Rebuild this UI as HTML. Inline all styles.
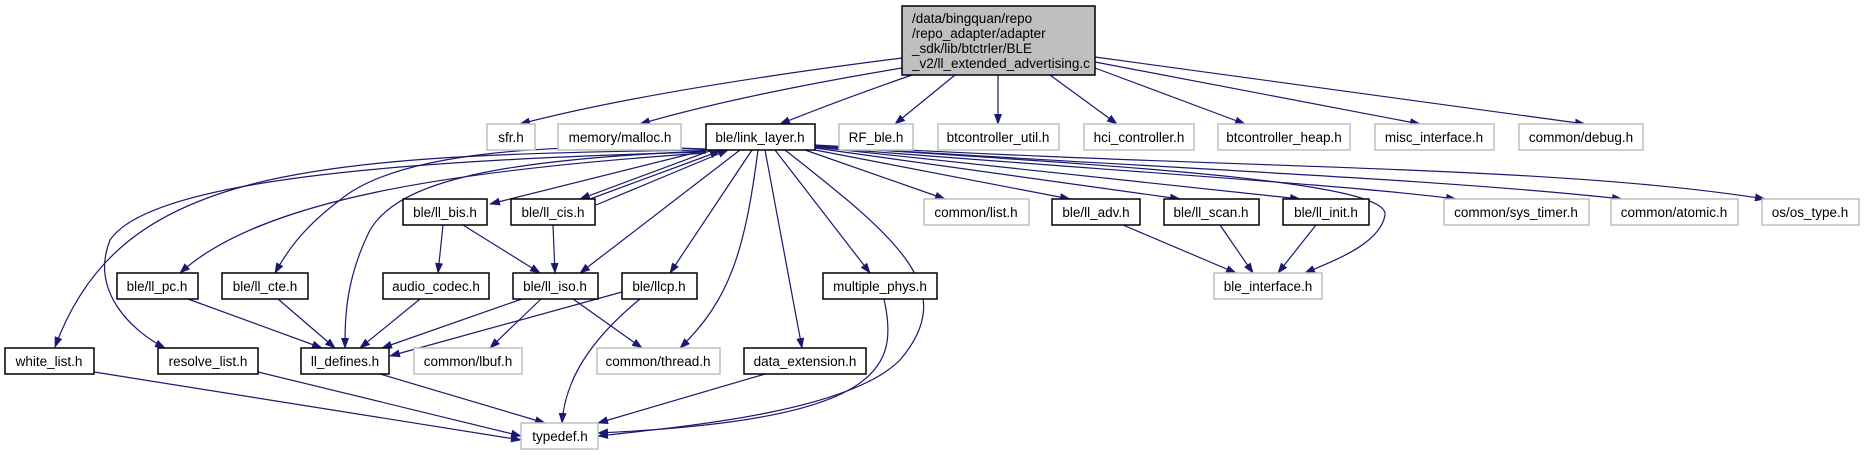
<!DOCTYPE html>
<html><head><meta charset="utf-8"><style>
html,body{margin:0;padding:0;background:#fff;}
svg{display:block;}
text{font-family:"Liberation Sans",sans-serif;font-size:13.5px;fill:#000;}
.e{fill:none;stroke:#191970;stroke-width:1.2;marker-end:url(#a);}
.g{fill:#fff;stroke:#bfbfbf;stroke-width:1.5;}
.b{fill:#fff;stroke:#000;stroke-width:1.5;}
</style></head><body>
<svg width="1865" height="455" viewBox="0 0 1865 455" xmlns="http://www.w3.org/2000/svg">
<defs><marker id="a" markerUnits="userSpaceOnUse" markerWidth="11" markerHeight="8" refX="10" refY="4" orient="auto"><path d="M0,0 L11,4 L0,8 z" fill="#191970"/></marker></defs>
<!-- root edges -->
<path class="e" d="M902,58 Q650,90 520,124"/>
<path class="e" d="M902,68 Q740,95 640,124"/>
<path class="e" d="M912,75 Q840,100 780,124"/>
<path class="e" d="M955,75 L895,124"/>
<path class="e" d="M998,75 L998,124"/>
<path class="e" d="M1050,75 L1117,124"/>
<path class="e" d="M1095,68 L1245,124"/>
<path class="e" d="M1095,62 L1420,124"/>
<path class="e" d="M1095,57 L1585,124"/>
<!-- link_layer edges -->
<path class="e" d="M706,150 C300,155 120,170 55,347"/>
<path class="e" d="M706,152 C400,160 150,180 110,240 C90,290 130,330 165,348"/>
<path class="e" d="M706,153 C450,170 260,200 180,273"/>
<path class="e" d="M706,149 C560,143 400,150 340,200 C300,230 285,255 275,273"/>
<path class="e" d="M706,151 C500,160 400,180 370,230 C345,280 345,320 345,348"/>
<path class="e" d="M706,150 L490,204"/>
<path class="e" d="M712,150 L580,199"/>
<path class="e" d="M590,199 L720,151"/>
<path class="e" d="M596,205 L728,150"/>
<path class="e" d="M740,150 L580,273"/>
<path class="e" d="M752,150 L670,273"/>
<path class="e" d="M758,150 C745,250 730,300 680,348"/>
<path class="e" d="M765,150 L802,348"/>
<path class="e" d="M775,150 L870,273"/>
<path class="e" d="M785,150 C900,240 960,290 900,360 C850,410 700,425 598,436"/>
<path class="e" d="M805,150 L945,199"/>
<path class="e" d="M815,150 L1070,199"/>
<path class="e" d="M815,148 L1180,199"/>
<path class="e" d="M815,147 L1300,199"/>
<path class="e" d="M815,146 C1100,165 1390,180 1385,215 C1380,245 1330,262 1305,273"/>
<path class="e" d="M815,147 C1100,170 1350,185 1456,199"/>
<path class="e" d="M815,146 C1200,170 1450,180 1622,199"/>
<path class="e" d="M815,145 C1250,170 1550,165 1765,199"/>
<!-- lower edges -->
<path class="e" d="M443,225 L438,273"/>
<path class="e" d="M463,225 L540,273"/>
<path class="e" d="M553,225 L555,273"/>
<path class="e" d="M188,299 L322,348"/>
<path class="e" d="M278,299 L335,348"/>
<path class="e" d="M420,299 L360,348"/>
<path class="e" d="M522,299 L382,348"/>
<path class="e" d="M622,292 L390,356"/>
<path class="e" d="M541,299 L490,348"/>
<path class="e" d="M573,299 L642,348"/>
<path class="e" d="M640,299 C590,340 565,380 562,423"/>
<path class="e" d="M380,374 L545,423"/>
<path class="e" d="M94,372 L521,440"/>
<path class="e" d="M258,372 L521,436"/>
<path class="e" d="M765,374 L598,423"/>
<path class="e" d="M884,299 C900,370 880,420 598,433"/>
<path class="e" d="M1123,225 L1236,273"/>
<path class="e" d="M1220,225 L1253,273"/>
<path class="e" d="M1316,225 L1278,273"/>
<!-- nodes -->
<rect x="902" y="6" width="193" height="69" fill="#bfbfbf" stroke="#000" stroke-width="1.5"/>
<text x="912" y="23">/data/bingquan/repo</text>
<text x="912" y="38">/repo_adapter/adapter</text>
<text x="912" y="53">_sdk/lib/btctrler/BLE</text>
<text x="912" y="68">_v2/ll_extended_advertising.c</text>
<g text-anchor="middle">
<rect class="g" x="487" y="124" width="48" height="26"/><text x="511" y="142">sfr.h</text>
<rect class="g" x="558" y="124" width="123" height="26"/><text x="620" y="142">memory/malloc.h</text>
<rect class="b" x="706" y="124" width="109" height="26"/><text x="760" y="142">ble/link_layer.h</text>
<rect class="g" x="839" y="124" width="74" height="26"/><text x="876" y="142">RF_ble.h</text>
<rect class="g" x="938" y="124" width="121" height="26"/><text x="998" y="142">btcontroller_util.h</text>
<rect class="g" x="1084" y="124" width="110" height="26"/><text x="1139" y="142">hci_controller.h</text>
<rect class="g" x="1218" y="124" width="132" height="26"/><text x="1284" y="142">btcontroller_heap.h</text>
<rect class="g" x="1375" y="124" width="119" height="26"/><text x="1434" y="142">misc_interface.h</text>
<rect class="g" x="1519" y="124" width="124" height="26"/><text x="1581" y="142">common/debug.h</text>

<rect class="b" x="403" y="199" width="84" height="26"/><text x="445" y="217">ble/ll_bis.h</text>
<rect class="b" x="511" y="199" width="84" height="26"/><text x="553" y="217">ble/ll_cis.h</text>
<rect class="g" x="924" y="199" width="105" height="26"/><text x="976" y="217">common/list.h</text>
<rect class="b" x="1052" y="199" width="88" height="26"/><text x="1096" y="217">ble/ll_adv.h</text>
<rect class="b" x="1164" y="199" width="95" height="26"/><text x="1211" y="217">ble/ll_scan.h</text>
<rect class="b" x="1283" y="199" width="86" height="26"/><text x="1326" y="217">ble/ll_init.h</text>
<rect class="g" x="1444" y="199" width="145" height="26"/><text x="1516" y="217">common/sys_timer.h</text>
<rect class="g" x="1611" y="199" width="127" height="26"/><text x="1674" y="217">common/atomic.h</text>
<rect class="g" x="1762" y="199" width="97" height="26"/><text x="1810" y="217">os/os_type.h</text>

<rect class="b" x="117" y="273" width="81" height="26"/><text x="157" y="291">ble/ll_pc.h</text>
<rect class="b" x="222" y="273" width="86" height="26"/><text x="265" y="291">ble/ll_cte.h</text>
<rect class="b" x="383" y="273" width="106" height="26"/><text x="436" y="291">audio_codec.h</text>
<rect class="b" x="513" y="273" width="85" height="26"/><text x="555" y="291">ble/ll_iso.h</text>
<rect class="b" x="622" y="273" width="75" height="26"/><text x="659" y="291">ble/llcp.h</text>
<rect class="b" x="823" y="273" width="114" height="26"/><text x="880" y="291">multiple_phys.h</text>
<rect class="g" x="1214" y="273" width="108" height="26"/><text x="1268" y="291">ble_interface.h</text>

<rect class="b" x="5" y="348" width="89" height="26"/><text x="49" y="366">white_list.h</text>
<rect class="b" x="158" y="348" width="100" height="26"/><text x="208" y="366">resolve_list.h</text>
<rect class="b" x="301" y="348" width="88" height="26"/><text x="345" y="366">ll_defines.h</text>
<rect class="g" x="414" y="348" width="108" height="26"/><text x="468" y="366">common/lbuf.h</text>
<rect class="g" x="597" y="348" width="123" height="26"/><text x="658" y="366">common/thread.h</text>
<rect class="b" x="744" y="348" width="122" height="26"/><text x="805" y="366">data_extension.h</text>

<rect class="g" x="521" y="423" width="77" height="26"/><text x="560" y="441">typedef.h</text>
</g>
</svg>
</body></html>
